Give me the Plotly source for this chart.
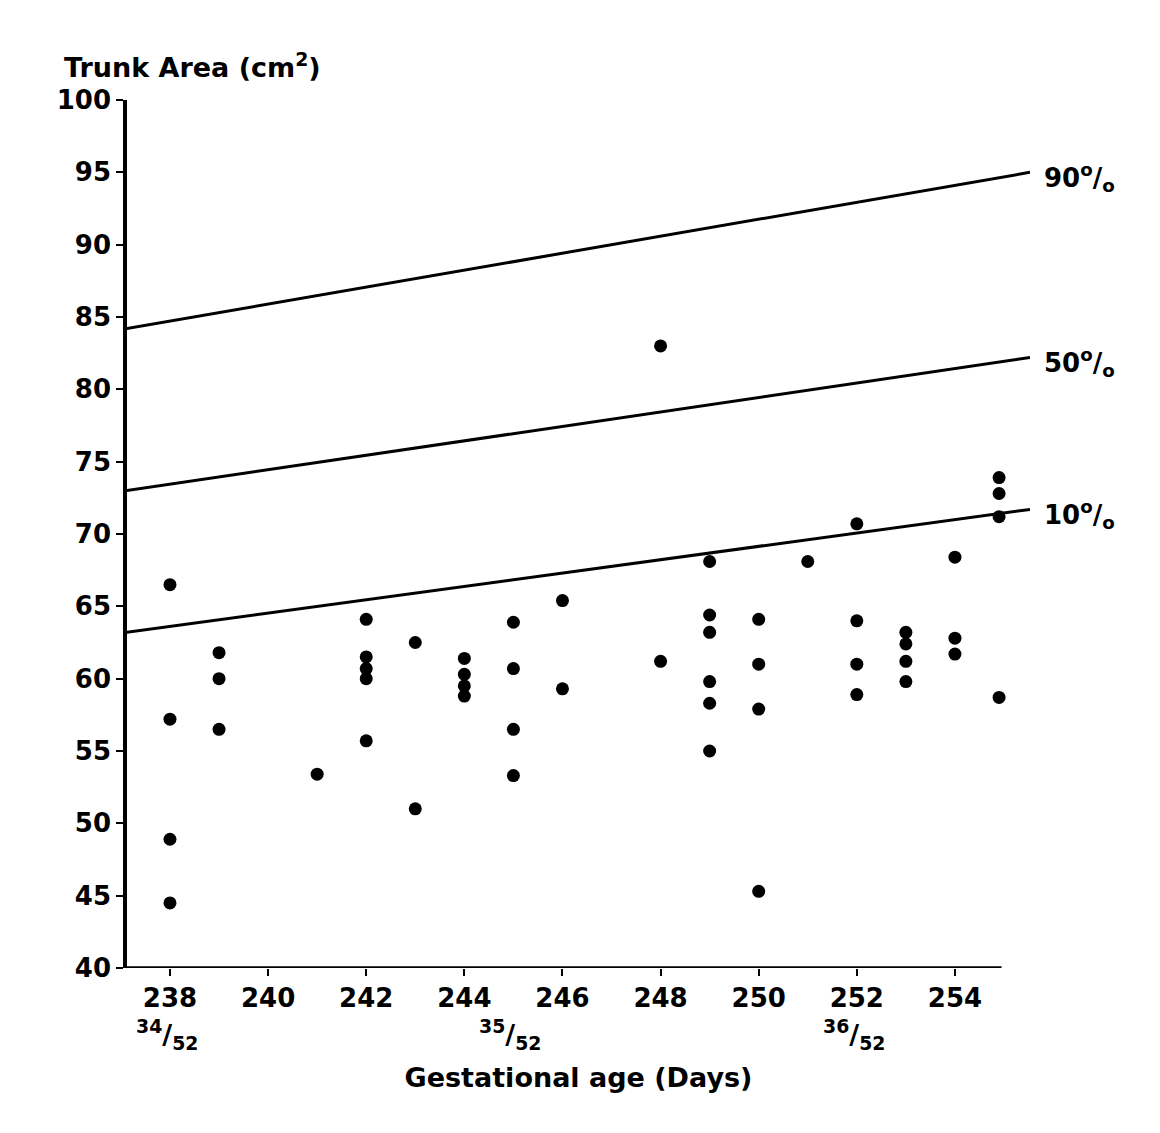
import plotly.graph_objects as go

# ---- data ----
days = [238, 238, 238, 238,
        239, 239, 239,
        241,
        242, 242, 242, 242, 242,
        243, 243,
        244, 244, 244, 244,
        245, 245, 245, 245,
        246, 246,
        248, 248,
        249, 249, 249, 249, 249, 249,
        250, 250, 250, 250,
        251,
        252, 252, 252, 252,
        253, 253, 253, 253,
        254, 254, 254,
        254.9, 254.9, 254.9, 254.9]
trunk_area = [66.5, 57.2, 48.9, 44.5,
              61.8, 60.0, 56.5,
              53.4,
              64.1, 61.5, 60.7, 60.0, 55.7,
              62.5, 51.0,
              61.4, 60.3, 59.5, 58.8,
              63.9, 60.7, 56.5, 53.3,
              65.4, 59.3,
              83.0, 61.2,
              68.1, 64.4, 63.2, 59.8, 58.3, 55.0,
              64.1, 61.0, 57.9, 45.3,
              68.1,
              70.7, 64.0, 61.0, 58.9,
              63.2, 62.4, 61.2, 59.8,
              68.4, 62.8, 61.7,
              73.9, 72.8, 71.2, 58.7]

pct_x = [237.12, 255.53]
p90 = [84.2, 95.0]
p50 = [73.0, 82.2]
p10 = [63.2, 71.7]
pct_names = ["90", "50", "10"]

x_ticks = [238, 240, 242, 244, 246, 248, 250, 252, 254]
y_ticks = [40, 45, 50, 55, 60, 65, 70, 75, 80, 85, 90, 95, 100]
week_days = [238, 245, 252]
week_labels = ["34", "35", "36"]

x_range = [237.124, 255.53]
y_range = [40, 100]
axis_end = 254.95

FONT = "DejaVu Sans"
TXT = dict(family=FONT, size=26, color="black", weight="bold")
TXT27 = dict(family=FONT, size=27, color="black", weight="bold")

fig = go.Figure()
for vals in (p90, p50, p10):
    fig.add_trace(go.Scatter(x=pct_x, y=vals, mode="lines",
                             line=dict(color="black", width=3),
                             hoverinfo="skip", showlegend=False))

fig.add_trace(go.Scatter(x=days, y=trunk_area, mode="markers",
                         marker=dict(color="black", size=13),
                         cliponaxis=False, showlegend=False))

# percentile labels
for name, vals in zip(pct_names, (p90, p50, p10)):
    fig.add_annotation(x=pct_x[1], y=vals[1], xref="x", yref="y",
                       text=name + "<sup>o</sup>/<sub>o</sub>",
                       showarrow=False, xanchor="left", yanchor="middle",
                       xshift=12, yshift=-5, font=TXT)

# week fractions
for d, w in zip(week_days, week_labels):
    fig.add_annotation(x=d, y=0, xref="x", yref="paper",
                       text="<sup>" + w + "</sup>/<sub>52</sub>",
                       showarrow=False, xanchor="center", yanchor="middle",
                       xshift=-3, yshift=-66, font=TXT27)

# y-axis title (top-left)
fig.add_annotation(x=0, y=1, xref="paper", yref="paper",
                   text="Trunk Area (cm<sup>2</sup>)", showarrow=False,
                   xanchor="left", yanchor="middle", xshift=-65, yshift=35,
                   font=TXT27)

# x-axis baseline (only to the end of the data range)
fig.add_shape(type="line", xref="x", yref="y",
              x0=x_range[0], x1=axis_end, y0=y_range[0], y1=y_range[0],
              line=dict(color="black", width=3.5))

fig.update_layout(
    width=1160, height=1133,
    margin=dict(l=127, r=130, t=100, b=165),
    paper_bgcolor="white", plot_bgcolor="white",
    font=TXT,
    xaxis=dict(range=x_range, tickmode="array", tickvals=x_ticks,
               ticks="outside", ticklen=7, tickwidth=2, tickcolor="black",
               showgrid=False, zeroline=False, showline=False,
               tickfont=TXT,
               title=dict(text="Gestational age (Days)",
                          font=TXT27, standoff=55)),
    yaxis=dict(range=y_range, tickmode="array", tickvals=y_ticks,
               ticks="outside", ticklen=7, tickwidth=2, tickcolor="black",
               showgrid=False, zeroline=False, showline=True,
               linecolor="black", linewidth=3.5,
               tickfont=TXT),
)

fig.write_html("out.html")
